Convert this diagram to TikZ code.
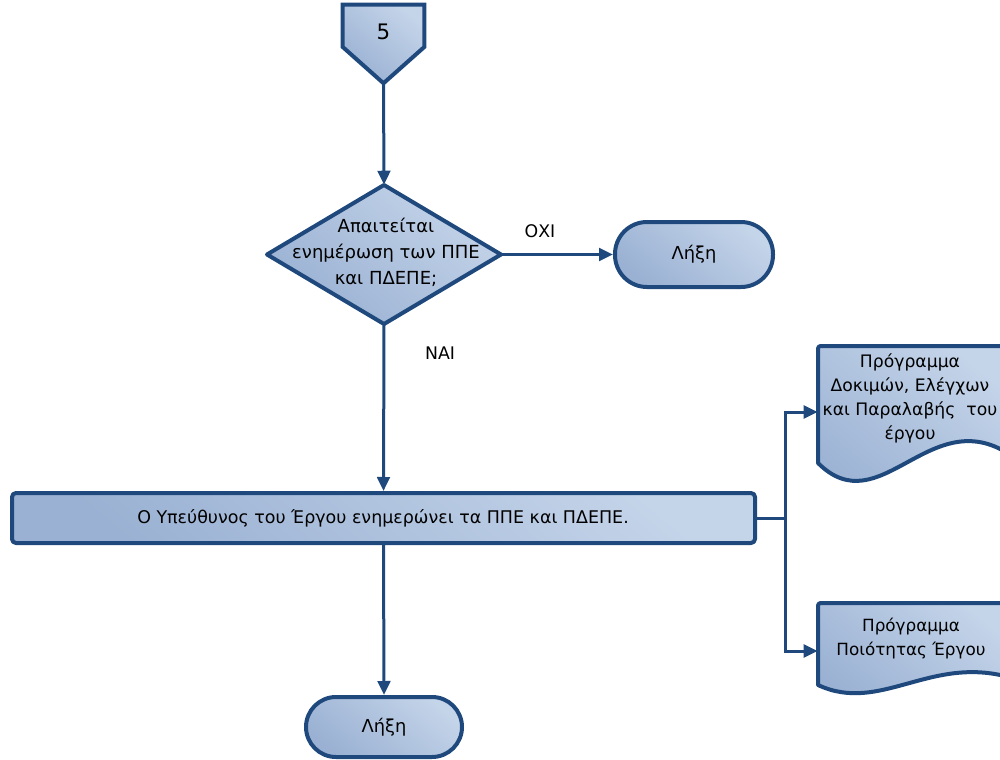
\documentclass[tikz,border=0pt]{standalone}
\usepackage{fontspec}
\setmainfont{DejaVu Sans}
\usetikzlibrary{arrows.meta,calc}
\definecolor{edge}{HTML}{1F497D}
\definecolor{fillDark}{HTML}{9AB1D3}
\definecolor{fillLight}{HTML}{C4D4E9}
\tikzset{
  shapeline/.style={draw=edge, line width=3pt, line join=round,
    top color=fillLight, bottom color=fillDark, shading angle=-40},
  txt/.style={font=\fontsize{13pt}{16pt}\selectfont, align=center, text=black, inner sep=0pt},
  flow/.style={draw=edge, line width=2.25pt, -{Triangle[length=10.5pt,width=9.5pt]}},
  wire/.style={draw=edge, line width=2.25pt},
  terminal/.style={shapeline, rounded corners=#1, inner sep=0pt},
}
\begin{document}
\begin{tikzpicture}[x=0.75pt,y=-0.75pt]
\useasboundingbox (0,0) rectangle (1000,760);

% off-page connector "5"
\node[inner sep=0pt, minimum width=60.75pt, minimum height=58.5pt] (c5) at (383.5,44) {};
\draw[shapeline, line join=miter] (c5.north west) -- (c5.north east) -- ([yshift=-2.25pt]c5.east)
  -- (c5.south) -- ([yshift=-2.25pt]c5.west) -- cycle;
\node[txt, font=\fontsize{16pt}{18pt}\selectfont] (c5t) at (383.5,32) {5};

% decision
\path[shapeline] (267,254.5) -- (384,185) -- (501,254.5) -- (384,324) -- cycle;
\node[inner sep=0pt, minimum width=175.5pt, minimum height=104.25pt] (q) at (384,254.5) {};
\node[txt, font=\fontsize{13.5pt}{19.5pt}\selectfont] (qt) at (386,252)
  {Απαιτείται\\ενημέρωση των ΠΠΕ\\και ΠΔΕΠΕ;};

% terminator (right)
\node[terminal=24pt, minimum width=118.5pt, minimum height=48.75pt] (endA) at (694,254.5) {};
\node[txt, font=\fontsize{13.4pt}{16pt}\selectfont] (endAt) at (694,254.5) {Λήξη};

% process
\node[terminal=3pt, minimum width=557.25pt, minimum height=37.5pt] (proc) at (383.5,518) {};
\node[txt, font=\fontsize{13.1pt}{16pt}\selectfont] (proct) at (383,518)
  {Ο Υπεύθυνος του Έργου ενημερώνει τα ΠΠΕ και ΠΔΕΠΕ.};

% terminator (bottom)
\node[terminal=22.5pt, minimum width=117pt, minimum height=45pt] (endB) at (384,727) {};
\node[txt, font=\fontsize{13.4pt}{16pt}\selectfont] (endBt) at (384,727) {Λήξη};

% documents
\draw[shapeline, rounded corners=2pt] (818,463) -- (818,346) -- (1012,346) -- (1012,456)
  [sharp corners] .. controls (930,402) and (880,525) .. cycle;
\node[inner sep=0pt, minimum width=142.5pt, minimum height=99pt] (doc1) at (913,412) {};
\node[txt, font=\fontsize{12.9pt}{18pt}\selectfont] (doc1t) at (910,398)
  {Πρόγραμμα\\Δοκιμών, Ελέγχων\\και Παραλαβής\ \ του\\έργου};

\draw[shapeline, rounded corners=2pt] (818,685) -- (818,603) -- (1012,603) -- (1012,678)
  [sharp corners] .. controls (930,655) and (880,714) .. cycle;
\node[inner sep=0pt, minimum width=142.5pt, minimum height=72pt] (doc2) at (913,651) {};
\node[txt, font=\fontsize{12.6pt}{18pt}\selectfont] (doc2t) at (911,639)
  {Πρόγραμμα\\Ποιότητας Έργου};

% branch labels
\node[txt] (no) at (540,231) {ΟΧΙ};
\node[txt] (yes) at (440,353) {ΝΑΙ};

% connectors
\coordinate (j) at (785,518);
\draw[flow] (c5.south) -- (q.north);
\draw[flow] (q.east) -- (endA.west);
\draw[flow] (q.south) -- (proc.north);
\draw[flow] (proc.south) -- (endB.north);
\draw[wire] (proc.east) -- (j);
\draw[flow] (j) |- (doc1.west);
\draw[flow] (j) |- (doc2.west);
\end{tikzpicture}
\end{document}
